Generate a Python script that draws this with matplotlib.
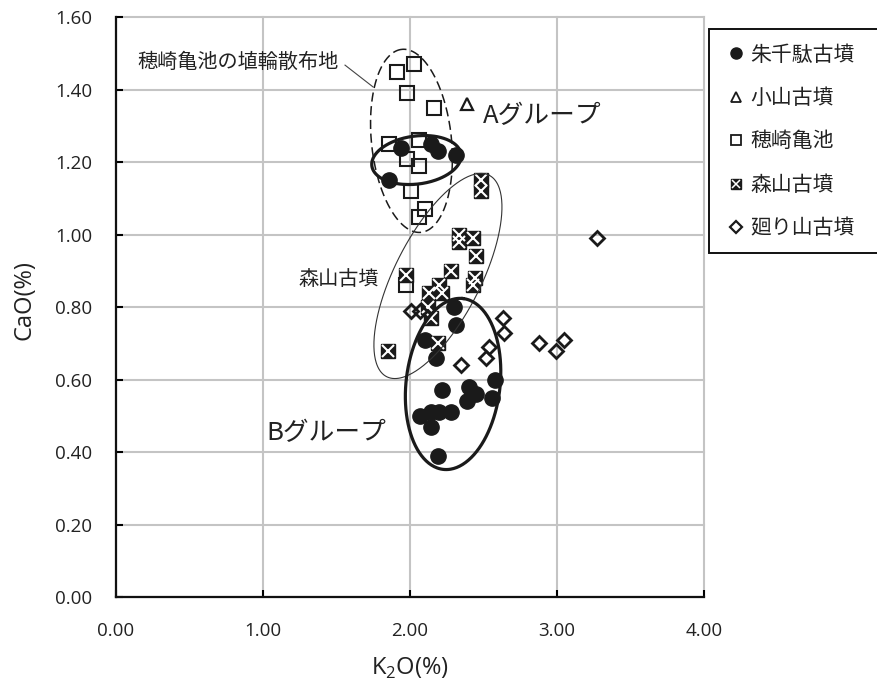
import numpy as np
import matplotlib
matplotlib.use("Agg")
import matplotlib.pyplot as plt
from matplotlib.lines import Line2D
from matplotlib.legend_handler import HandlerTuple

# ---- data: K2O (%) vs CaO (%) ----
shusenda_k2o = [1.94, 2.14, 2.19, 2.31, 1.86,
                2.30, 2.31, 2.10, 2.18, 2.58, 2.22, 2.40, 2.45, 2.56, 2.39,
                2.07, 2.14, 2.20, 2.28, 2.14, 2.19]
shusenda_cao = [1.24, 1.25, 1.23, 1.22, 1.15,
                0.80, 0.75, 0.71, 0.66, 0.60, 0.57, 0.58, 0.56, 0.55, 0.54,
                0.50, 0.51, 0.51, 0.51, 0.47, 0.39]

koyama_k2o = [2.39]
koyama_cao = [1.36]

hozaki_k2o = [1.91, 2.03, 1.98, 2.16, 1.86, 2.06, 1.98, 2.06, 2.01, 2.10, 2.06, 1.97]
hozaki_cao = [1.45, 1.47, 1.39, 1.35, 1.25, 1.26, 1.21, 1.19, 1.12, 1.07, 1.05, 0.86]

moriyama_k2o = [2.48, 2.48, 2.33, 2.43, 2.33, 2.45, 2.28, 2.44, 2.43, 1.97,
                2.20, 2.13, 2.22, 2.12, 2.14, 2.19, 1.85]
moriyama_cao = [1.15, 1.12, 1.00, 0.99, 0.98, 0.94, 0.90, 0.88, 0.86, 0.89,
                0.86, 0.84, 0.84, 0.80, 0.77, 0.70, 0.68]

meguri_k2o = [3.27, 3.05, 2.99, 2.88, 2.63, 2.64, 2.54, 2.52, 2.35, 2.01, 2.07]
meguri_cao = [0.99, 0.71, 0.68, 0.70, 0.77, 0.73, 0.69, 0.66, 0.64, 0.79, 0.79]

series_names = ["朱千駄古墳", "小山古墳", "穂崎亀池", "森山古墳", "廻り山古墳"]

x_ticks = [0.0, 1.0, 2.0, 3.0, 4.0]
y_ticks = [0.0, 0.2, 0.4, 0.6, 0.8, 1.0, 1.2, 1.4, 1.6]

JP = ["Noto Sans CJK JP", "DejaVu Sans"]
NUM = ["Open Sans", "DejaVu Sans"]

W, H = 878, 689
fig = plt.figure(figsize=(W / 100, H / 100), dpi=100)
ax = fig.add_axes([116 / W, (H - 597) / H, (704 - 116) / W, (597 - 17.3) / H])

ax.set_xlim(0, 4)
ax.set_ylim(0, 1.6)
ax.set_xticks(x_ticks)
ax.set_yticks(y_ticks)
ax.set_xticklabels([f"{v:.2f}" for v in x_ticks], family=NUM, fontsize=13.5, color="#222222")
ax.set_yticklabels([f"{v:.2f}" for v in y_ticks], family=NUM, fontsize=13.5, color="#222222")
ax.tick_params(axis="x", direction="in", length=5, width=1.5, pad=18)
ax.tick_params(axis="y", direction="in", length=5, width=1.5, pad=17)

ax.grid(True, color="#c4c4c4", linewidth=1.5)
ax.set_axisbelow(True)
for gl in ax.get_xgridlines() + ax.get_ygridlines():
    gl.set_clip_on(False)
for side in ("top", "right"):
    ax.spines[side].set_visible(False)
for side in ("left", "bottom"):
    ax.spines[side].set_linewidth(1.6)
    ax.spines[side].set_color("#111111")
    ax.spines[side].set_zorder(3)

ax.set_xlabel(r"K$_{\mathregular{2}}$O(%)", family=NUM, fontsize=17, color="#222222")
ax.set_ylabel("CaO(%)", family=NUM, fontsize=17, color="#222222")
ax.xaxis.set_label_coords(0.500, -(668 - 597) / (597 - 17.3), transform=ax.transAxes)
ax.yaxis.set_label_coords(-(116 - 24) / (704 - 116), (597 - 300) / (597 - 17.3))
ax.xaxis.label.set_va("center")
ax.yaxis.label.set_va("center")

# ---- scatter series ----
ax.plot(shusenda_k2o, shusenda_cao, "o", ms=11, color="#1a1a1a", mec="#1a1a1a", zorder=4)
ax.plot(koyama_k2o, koyama_cao, "^", ms=9, mfc="none", mec="#1a1a1a", mew=1.6, zorder=4)
ax.plot(hozaki_k2o, hozaki_cao, "s", ms=10.5, mfc="none", mec="#1a1a1a", mew=1.5, zorder=4)
ax.plot(moriyama_k2o, moriyama_cao, "s", ms=9.5, color="#1a1a1a", mec="#1a1a1a", zorder=5)
ax.plot(moriyama_k2o, moriyama_cao, "x", ms=8.5, mec="white", mew=1.5, zorder=5)
ax.plot(meguri_k2o, meguri_cao, "D", ms=7.5, mfc="none", mec="#1a1a1a", mew=2.0, zorder=6)

# ---- group ellipses (semi-axes and angle given in screen pixels) ----
fig.canvas.draw()


def draw_ellipse(cx, cy, a_px, b_px, angle_deg, **kw):
    t = np.linspace(0, 2 * np.pi, 300)
    th = np.deg2rad(angle_deg)
    u = a_px * np.cos(t)
    v = b_px * np.sin(t)
    dx = u * np.cos(th) - v * np.sin(th)
    dy = u * np.sin(th) + v * np.cos(th)
    c = ax.transData.transform((cx, cy))
    pts = ax.transData.inverted().transform(np.column_stack([c[0] + dx, c[1] + dy]))
    ax.plot(pts[:, 0], pts[:, 1], zorder=7, **kw)


draw_ellipse(2.010, 1.259, 92, 40, 96, color="#1a1a1a", lw=1.1, ls=(0, (6, 3)))
draw_ellipse(2.044, 1.206, 45, 24, 7.5, color="#1a1a1a", lw=2.3)
draw_ellipse(2.190, 0.886, 113, 43, 63, color="#333333", lw=0.8)
draw_ellipse(2.293, 0.588, 86, 47, 83.4, color="#1a1a1a", lw=2.3)

# ---- annotations ----
ax.text(0.143, 1.474, "穂崎亀池の埴輪散布地", family=JP, fontsize=14.5, ha="left", va="center", color="#222222")
ax.plot([1.558, 1.748], [1.468, 1.408], color="#444444", lw=0.8, zorder=7)
ax.text(2.497, 1.328, "Aグループ", family=JP, fontsize=18.5, ha="left", va="center", color="#222222")
ax.text(1.020, 0.453, "Bグループ", family=JP, fontsize=18.5, ha="left", va="center", color="#222222")
ax.text(1.238, 0.875, "森山古墳", family=JP, fontsize=14.5, ha="left", va="center", color="#222222")

# ---- legend ----
h_circle = Line2D([], [], ls="none", marker="o", ms=8, color="#1a1a1a")
h_tri = Line2D([], [], ls="none", marker="^", ms=7, mfc="none", mec="#1a1a1a", mew=1.3)
h_sq = Line2D([], [], ls="none", marker="s", ms=7.5, mfc="none", mec="#1a1a1a", mew=1.3)
h_xs_a = Line2D([], [], ls="none", marker="s", ms=7, color="#1a1a1a")
h_xs_b = Line2D([], [], ls="none", marker="x", ms=6, mec="white", mew=1.1)
h_dia = Line2D([], [], ls="none", marker="D", ms=6, mfc="none", mec="#1a1a1a", mew=1.6)

leg = ax.legend([h_circle, h_tri, h_sq, (h_xs_a, h_xs_b), h_dia], series_names,
                handler_map={tuple: HandlerTuple(ndivide=1, pad=0)},
                loc="upper left",
                bbox_to_anchor=(709 / W, 1 - 249.3 / H, (884 - 709) / W, 220 / H),
                bbox_transform=fig.transFigure, borderaxespad=0, mode="expand",
                prop={"family": JP, "size": 15}, frameon=True, fancybox=False,
                edgecolor="#111111", framealpha=1, handlelength=1.2,
                handletextpad=0.12, labelspacing=1.03, borderpad=0.68)
leg.get_frame().set_linewidth(1.4)
for t in leg.get_texts():
    t.set_color("#222222")

fig.savefig("out.png", dpi=100)
